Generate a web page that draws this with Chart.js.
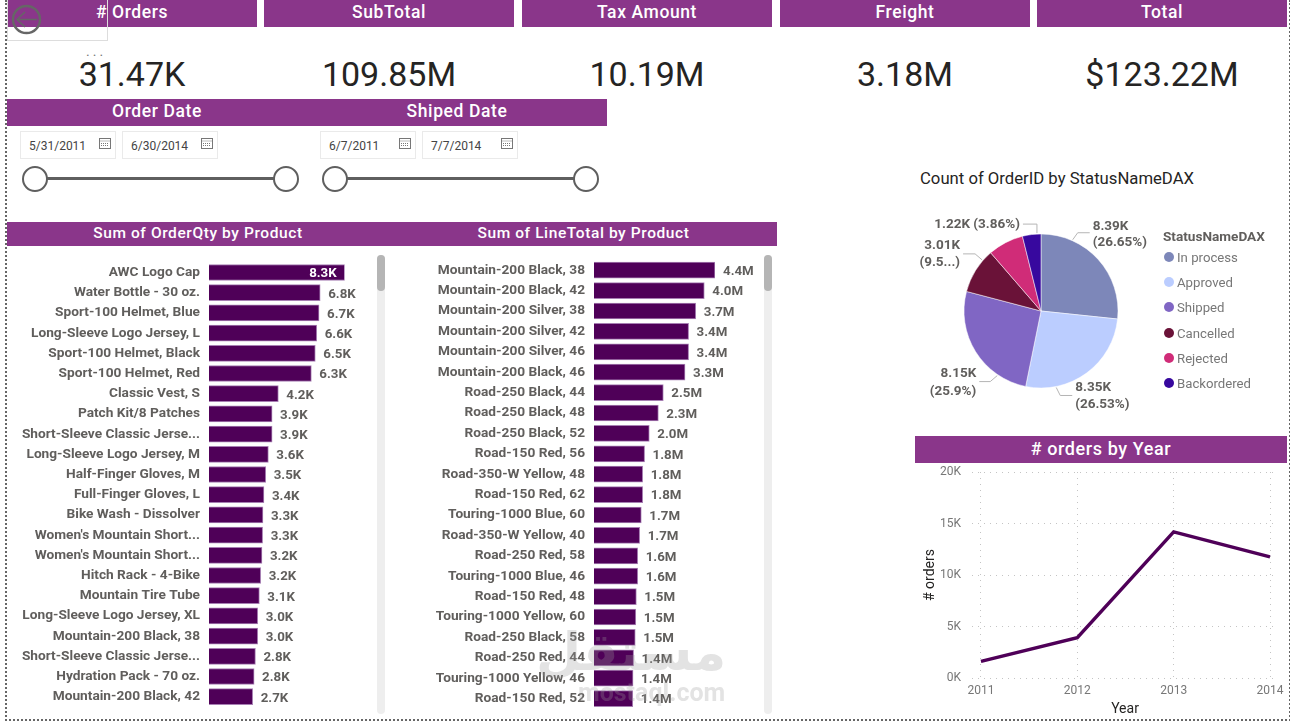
<!DOCTYPE html>
<html>
<head>
<meta charset="utf-8">
<script src="https://cdn.jsdelivr.net/npm/chart.js@4"></script>
<style>
  html, body { margin: 0; padding: 0; background: #fff; overflow: hidden; }
  body { width: 1290px; height: 723px; position: relative; font-family: Roboto, sans-serif; }
  .abs { position: absolute; }
  canvas { position: absolute; }
  .frame { left: 5px; top: 0; width: 1282px; height: 719px; border-left: 2px dotted #666; border-right: 2px dotted #666; border-bottom: 2px dotted #666; }
  .head { position: absolute; background: #8a368a; color: #fff; text-align: center; font-weight: 500; letter-spacing: .6px; }
  .kpi { position: absolute; top: 52px; width: 250px; text-align: center; font-size: 34px; line-height: 44px; color: #252423; }
  .date { position: absolute; top: 131px; width: 94px; height: 26px; border: 1px solid #eaeaea; font-size: 12px; line-height: 29px; color: #444; text-indent: 8px; }
  .date svg { position: absolute; right: 4px; top: 5px; }
  .track { position: absolute; top: 177px; width: 251px; height: 3px; background: #5f5f5f; }
  .knob { position: absolute; top: 166px; width: 22px; height: 22px; border: 2px solid #5f5f5f; border-radius: 50%; background: #fff; }
  .sbar { position: absolute; top: 255px; width: 8px; height: 459px; background: #eee; border-radius: 4px; }
  .sbar div { width: 8px; height: 36px; background: #b5b5b5; border-radius: 4px; }
  .pietitle { position: absolute; left: 920px; top: 169px; font-size: 16.7px; line-height: 20px; color: #252423; }
  .legtitle { position: absolute; left: 1163px; top: 228px; font-size: 13.6px; line-height: 16px; font-weight: 700; color: #605e5c; }
  .legitem { position: absolute; left: 1177px; font-size: 13.2px; line-height: 16px; color: #777; }
  .legdot { position: absolute; left: 1164px; width: 10px; height: 10px; border-radius: 50%; }
  .mark { position: absolute; color: #9a9a9a; opacity: .28; pointer-events: none; }
</style>
</head>
<body>
<div class="abs frame"></div>

<div id="kpis"></div>
<div id="dates"></div>

<div class="head" style="left:7px;top:99px;width:300px;height:27px;line-height:25px;font-size:17.5px">Order Date</div>
<div class="head" style="left:307px;top:99px;width:300px;height:27px;line-height:25px;font-size:17.5px">Shiped Date</div>
<div class="abs" style="left:7px;top:222px;width:770px;height:24px;background:#8a368a"></div>
<div class="head" style="left:7px;top:222px;width:382px;height:24px;line-height:22px;font-size:15.5px">Sum of OrderQty by Product</div>
<div class="head" style="left:390px;top:222px;width:387px;height:24px;line-height:22px;font-size:15.5px">Sum of LineTotal by Product</div>

<canvas id="qty" width="370" height="470" style="left:7px;top:250px"></canvas>
<div class="sbar" style="left:377px"><div></div></div>
<canvas id="total" width="374" height="470" style="left:390px;top:250px"></canvas>
<div class="sbar" style="left:764px"><div></div></div>

<div class="pietitle">Count of OrderID by StatusNameDAX</div>
<canvas id="status" width="295" height="230" style="left:880px;top:200px"></canvas>
<div class="legtitle">StatusNameDAX</div>
<div id="legend"></div>

<div class="head" style="left:915px;top:436px;width:372px;height:27px;line-height:25px;font-size:18px"># orders by Year</div>
<canvas id="years" width="372" height="255" style="left:915px;top:463px"></canvas>

<!-- back button overlay -->
<div class="abs" style="left:7px;top:-1px;width:99px;height:40px;border:1px solid #ddd"></div>
<svg class="abs" style="left:10px;top:3px" width="34" height="34" viewBox="0 0 34 34" fill="none" stroke="#666">
  <circle cx="16.5" cy="16.5" r="13.5" stroke-width="2.4"/>
  <path d="M27 16.5H7M15 9l-8 7.5 8 7.5" stroke-width="1.6"/>
</svg>
<div class="abs" style="left:86px;top:44px;font-size:14px;line-height:14px;color:#777;letter-spacing:3px">...</div>
<div class="abs" style="left:70px;top:56px;width:10px;height:36px;background:#fff"></div>

<div class="mark" style="left:536px;top:622px;font:700 52px 'DejaVu Sans'">مستقل</div>
<div class="mark" style="left:578px;top:678px;font:700 25px Roboto">mostaql.com</div>

<script>
// kpi cards
const kpiTitles = ['# Orders', 'SubTotal', 'Tax Amount', 'Freight', 'Total'];
const kpiValues = ['31.47K', '109.85M', '10.19M', '3.18M', '$123.22M'];
const kpiLeft = [7, 264, 522, 780, 1037];

// date slicers
const dateValues = ['5/31/2011', '6/30/2014', '6/7/2011', '7/7/2014'];
const dateLeft = [20, 122, 320, 422];
const sliderLeft = [35, 335];

// bar charts
const qtyProducts = ['AWC Logo Cap', 'Water Bottle - 30 oz.', 'Sport-100 Helmet, Blue', 'Long-Sleeve Logo Jersey, L', 'Sport-100 Helmet, Black', 'Sport-100 Helmet, Red', 'Classic Vest, S', 'Patch Kit/8 Patches', 'Short-Sleeve Classic Jerse...', 'Long-Sleeve Logo Jersey, M', 'Half-Finger Gloves, M', 'Full-Finger Gloves, L', 'Bike Wash - Dissolver', "Women's Mountain Short...", "Women's Mountain Short...", 'Hitch Rack - 4-Bike', 'Mountain Tire Tube', 'Long-Sleeve Logo Jersey, XL', 'Mountain-200 Black, 38', 'Short-Sleeve Classic Jerse...', 'Hydration Pack - 70 oz.', 'Mountain-200 Black, 42'];
const qtyValues = [8300, 6800, 6730, 6590, 6500, 6260, 4240, 3860, 3860, 3630, 3470, 3360, 3300, 3280, 3240, 3160, 3080, 2980, 2980, 2840, 2760, 2670];

const totalProducts = ['Mountain-200 Black, 38', 'Mountain-200 Black, 42', 'Mountain-200 Silver, 38', 'Mountain-200 Silver, 42', 'Mountain-200 Silver, 46', 'Mountain-200 Black, 46', 'Road-250 Black, 44', 'Road-250 Black, 48', 'Road-250 Black, 52', 'Road-150 Red, 56', 'Road-350-W Yellow, 48', 'Road-150 Red, 62', 'Touring-1000 Blue, 60', 'Road-350-W Yellow, 40', 'Road-250 Red, 58', 'Touring-1000 Blue, 46', 'Road-150 Red, 48', 'Touring-1000 Yellow, 60', 'Road-250 Black, 58', 'Road-250 Red, 44', 'Touring-1000 Yellow, 46', 'Road-150 Red, 52'];
const totalValues = [4400000, 4010000, 3700000, 3440000, 3440000, 3310000, 2520000, 2340000, 2010000, 1840000, 1770000, 1770000, 1720000, 1660000, 1590000, 1590000, 1540000, 1520000, 1500000, 1440000, 1420000, 1410000];

// pie
const statusNames = ['In process', 'Approved', 'Shipped', 'Cancelled', 'Rejected', 'Backordered'];
const statusValues = [8390, 8350, 8150, 3010, 2350, 1220];
const statusLabels = [['8.39K', '(26.65%)'], ['8.35K', '(26.53%)'], ['8.15K', '(25.9%)'], ['3.01K', '(9.5...)'], null, ['1.22K (3.86%)']];
const statusColors = ['#7d87b9', '#bbcdff', '#8066c4', '#6a1238', '#d02c78', '#37089e'];

// line
const orderYears = [2011, 2012, 2013, 2014];
const orderCounts = [1607, 3915, 14182, 11761];
const orderTicks = [0, 5000, 10000, 15000, 20000];

const purple = '#4f0058';
const labelGrey = '#605e5c';
const iconCal = '<svg width="12" height="12" viewBox="0 0 12 12" fill="none" stroke="#777"><rect x=".5" y="1.5" width="11" height="10"/><path d="M.5 4h11M2 6.5h8M2 8.5h8" stroke-dasharray="1 1"/></svg>';

kpiTitles.forEach((t, i) => {
    document.getElementById('kpis').innerHTML +=
        `<div class="head" style="left:${kpiLeft[i]}px;top:0;width:250px;height:27px;line-height:24px;font-size:17.5px">${t}</div>` +
        `<div class="kpi" style="left:${kpiLeft[i]}px">${kpiValues[i]}</div>`;
});
dateValues.forEach((d, i) => {
    document.getElementById('dates').innerHTML += `<div class="date" style="left:${dateLeft[i]}px">${d}${iconCal}</div>`;
});
sliderLeft.forEach(x => {
    document.getElementById('dates').innerHTML +=
        `<div class="track" style="left:${x}px"></div>` +
        `<div class="knob" style="left:${x - 13}px"></div><div class="knob" style="left:${x + 238}px"></div>`;
});
statusNames.forEach((n, i) => {
    const y = [250, 275, 300, 326, 351, 376][i];
    document.getElementById('legend').innerHTML +=
        `<div class="legdot" style="top:${y + 2}px;background:${statusColors[i]}"></div><div class="legitem" style="top:${y}px">${n}</div>`;
});

// chart.js reserves room for half a tick label at the axis ends, we want the plot exact
function noAxisMargin(scale) {
    scale.paddingTop = 0;
    scale.paddingBottom = 0;
    scale.paddingLeft = 0;
    scale.paddingRight = 0;
}

// value labels at the end of each bar, the longest sits inside if asked
const barLabels = {
    id: 'barLabels',
    afterDatasetsDraw(chart, args, opts) {
        const ctx = chart.ctx;
        const values = chart.data.datasets[0].data;
        ctx.save();
        ctx.font = '700 13.3px Roboto';
        ctx.textBaseline = 'middle';
        chart.getDatasetMeta(0).data.forEach((bar, i) => {
            const txt = opts.format(values[i]);
            if (opts.inside && i === 0) {
                ctx.fillStyle = '#fff';
                ctx.textAlign = 'right';
                ctx.fillText(txt, bar.x - 8, bar.y + 1.5);
            } else {
                ctx.fillStyle = labelGrey;
                ctx.textAlign = 'left';
                ctx.fillText(txt, bar.x + 8, bar.y + 1.5);
            }
        });
        ctx.restore();
    }
};

function barChart(id, names, values, axisWidth, padding, format, inside) {
    return new Chart(document.getElementById(id).getContext('2d'), {
        type: 'bar',
        data: {
            labels: names,
            datasets: [{
                data: values,
                backgroundColor: purple,
                borderColor: '#a77fb3',
                borderWidth: 1,
                barThickness: 16
            }]
        },
        options: {
            indexAxis: 'y',
            responsive: false,
            animation: false,
            layout: { padding: padding },
            scales: {
                x: { display: false, min: 0, max: values[0] },
                y: {
                    grid: { display: false, drawTicks: false },
                    border: { display: false },
                    afterFit(scale) { scale.width = axisWidth; noAxisMargin(scale); },
                    ticks: { autoSkip: false, padding: 9, color: labelGrey, font: { family: 'Roboto', size: 13.7, weight: '700' } }
                }
            },
            plugins: {
                legend: { display: false },
                tooltip: { enabled: false },
                barLabels: { format: format, inside: inside }
            }
        },
        plugins: [barLabels]
    });
}

barChart('qty', qtyProducts, qtyValues, 202, { top: 12.4, bottom: 13.2, right: 32.3 }, v => (v / 1000).toFixed(1) + 'K', true);
barChart('total', totalProducts, totalValues, 204, { top: 10, bottom: 11.2, right: 49 }, v => (v / 1000000).toFixed(1) + 'M', false);

// leader lines: turn from the slice middle (degrees), elbow offset, length of the flat part
const calloutShape = [
    { turn: -24, dx: 5, dy: -7, run: 12, gapY: -6, step: 16 },
    { turn: 25, dx: 4, dy: 8, run: 12, gapY: -8, step: 17 },
    { turn: -24, dx: -7, dy: 6, run: -11, gapY: -8, step: 18 },
    { turn: 9, dx: -7, dy: -6, run: -12, gapY: -8, step: 17 },
    null,
    { turn: 4, dx: 0, dy: -9, run: -14, gapY: 1, step: 0 }
];

const pieCallouts = {
    id: 'pieCallouts',
    afterDatasetsDraw(chart) {
        const ctx = chart.ctx;
        ctx.save();
        ctx.font = '700 13.5px Roboto';
        ctx.textBaseline = 'middle';
        chart.getDatasetMeta(0).data.forEach((arc, i) => {
            const lines = statusLabels[i];
            const s = calloutShape[i];
            if (!lines) return;
            const mid = (arc.startAngle + arc.endAngle) / 2 + s.turn * Math.PI / 180;
            const x0 = arc.x + Math.cos(mid) * (arc.outerRadius + 1);
            const y0 = arc.y + Math.sin(mid) * (arc.outerRadius + 1);
            const x1 = x0 + s.dx, y1 = y0 + s.dy, x2 = x1 + s.run;
            ctx.strokeStyle = '#b5b5b5';
            ctx.lineWidth = 1;
            ctx.beginPath();
            ctx.moveTo(x0, y0);
            ctx.lineTo(x1, y1);
            ctx.lineTo(x2, y1);
            ctx.stroke();
            ctx.fillStyle = labelGrey;
            ctx.textAlign = s.run > 0 ? 'left' : 'right';
            lines.forEach((l, k) => {
                ctx.fillText(l, x2 + (s.run > 0 ? 3 : -3), y1 + s.gapY + k * s.step);
            });
        });
        ctx.restore();
    }
};

new Chart(document.getElementById('status').getContext('2d'), {
    type: 'pie',
    data: {
        labels: statusNames,
        datasets: [{
            data: statusValues,
            backgroundColor: statusColors,
            borderWidth: 0.5,
            borderColor: '#fff',
            radius: 77
        }]
    },
    options: {
        responsive: false,
        animation: false,
        // pie centre sits at 1041,311 on the page
        layout: { padding: { left: 27, right: 0, top: 0, bottom: 8 } },
        plugins: { legend: { display: false }, tooltip: { enabled: false } }
    },
    plugins: [pieCallouts]
});

new Chart(document.getElementById('years').getContext('2d'), {
    type: 'line',
    data: {
        datasets: [{
            data: orderYears.map((y, i) => ({ x: y, y: orderCounts[i] })),
            borderColor: purple,
            borderWidth: 3.4,
            pointRadius: 0,
            tension: 0
        }]
    },
    options: {
        responsive: false,
        animation: false,
        layout: { padding: { top: 9, right: 9 } },
        scales: {
            x: {
                type: 'linear',
                min: 2010.907,
                max: 2014.083,
                afterBuildTicks(scale) { scale.ticks = orderYears.map(v => ({ value: v })); },
                afterFit(scale) { scale.height = 40; noAxisMargin(scale); },
                grid: { color: '#c4c4c4', tickLength: 0 },
                border: { display: false, dash: [1, 5] },
                title: { display: true, text: 'Year', color: '#252423', padding: 0, font: { family: 'Roboto', size: 14 } },
                ticks: { padding: 6, color: '#777', maxRotation: 0, callback: v => String(v), font: { family: 'Roboto', size: 12 } }
            },
            y: {
                min: 0,
                max: 20000,
                afterBuildTicks(scale) { scale.ticks = orderTicks.map(v => ({ value: v })); },
                afterFit(scale) { scale.width = 57; noAxisMargin(scale); },
                grid: { color: '#c4c4c4', tickLength: 0 },
                border: { display: false, dash: [1, 5] },
                title: { display: true, text: '# orders', color: '#252423', padding: { top: 7, bottom: 0 }, font: { family: 'Roboto', size: 14 } },
                ticks: { padding: 11, color: '#777', callback: v => (v / 1000) + 'K', font: { family: 'Roboto', size: 12 } }
            }
        },
        plugins: { legend: { display: false }, tooltip: { enabled: false } }
    }
});
</script>
</body>
</html>
